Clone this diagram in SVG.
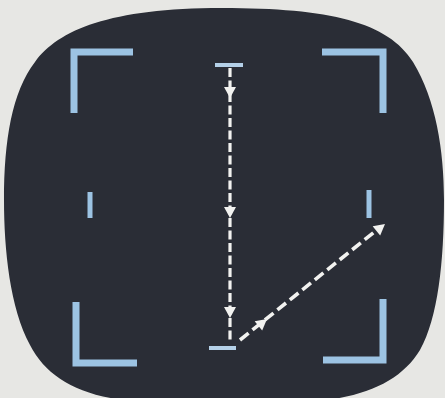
<svg xmlns="http://www.w3.org/2000/svg" width="445" height="398" viewBox="0 0 445 398">
  <defs>
    <style>
      .bracket { fill: none; stroke: #9cc3e3; stroke-width: 7; stroke-linecap: butt; stroke-linejoin: miter; }
      .tick { fill: none; stroke: #9cc3e3; stroke-width: 5; }
      .bar { fill: none; stroke: #b4d0e8; stroke-width: 4; }
      .path { fill: none; stroke: #f2f2f0; stroke-width: 3.2; stroke-dasharray: 9 3.5; }
      .diag { fill: none; stroke: #f2f2f0; stroke-width: 3.6; stroke-dasharray: 11 5; }
      .head { fill: #f2f2f0; }
    </style>
    <path id="ah" d="M-6,-11 L6,-11 L0,0 Z"/>
  </defs>
  <rect x="0" y="0" width="445" height="398" fill="#e7e7e4"/>
  <g id="screen">
    <path d="M222,8 C330,8 388,22 413,62 C436,100 444,150 444,200 C444,262 438,318 420,350 C400,383 360,400 300,402 L150,402 C85,400 48,380 30,345 C10,308 4,250 4,200 C4,140 12,92 35,62 C58,30 110,8 222,8 Z" fill="#2a2d36"/>
  </g>
  <g id="brackets">
    <polyline class="bracket" points="74,113 74,52 133,52"/>
    <polyline class="bracket" points="322,52 383,52 383,113"/>
    <polyline class="bracket" points="76,302 76,363 137,363"/>
    <polyline class="bracket" points="323,360 383,360 383,299"/>
    <line class="tick" x1="90" y1="192" x2="90" y2="218"/>
    <line class="tick" x1="369" y1="190" x2="369" y2="218"/>
  </g>
  <g id="markers">
    <line class="bar" x1="215" y1="65" x2="243" y2="65"/>
    <line class="bar" x1="209" y1="348" x2="236" y2="348"/>
  </g>
  <g id="connectors">
    <line class="path" x1="230" y1="68" x2="230" y2="340"/>
    <use href="#ah" class="head" transform="translate(230,98)"/>
    <use href="#ah" class="head" transform="translate(230,218)"/>
    <use href="#ah" class="head" transform="translate(230,318)"/>
    <line class="diag" x1="240" y1="340" x2="378" y2="229"/>
    <use href="#ah" class="head" transform="translate(267,319) rotate(-128.8)"/>
    <use href="#ah" class="head" transform="translate(385,224) rotate(-128.8)"/>
  </g>
</svg>
